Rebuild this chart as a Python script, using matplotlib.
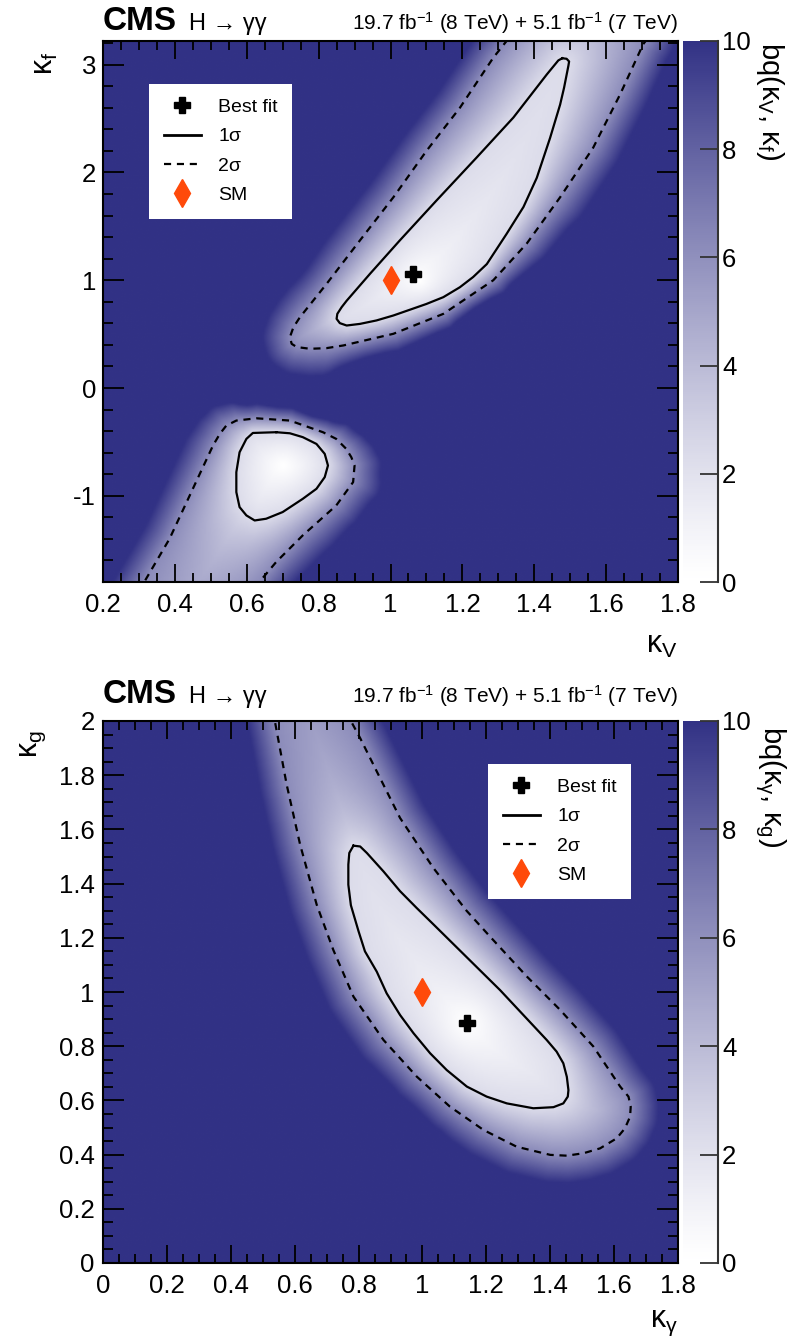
import numpy as np
import matplotlib
matplotlib.use("Agg")
import matplotlib.pyplot as plt
from matplotlib.path import Path
from matplotlib.colors import ListedColormap, to_rgb
from matplotlib.lines import Line2D
from matplotlib.ticker import MultipleLocator, FuncFormatter

plt.rcParams["font.family"] = ["Liberation Sans", "DejaVu Sans"]
plt.rcParams["mathtext.fontset"] = "custom"
plt.rcParams["mathtext.rm"] = "Liberation Sans"
plt.rcParams["mathtext.it"] = "Liberation Sans:italic"
plt.rcParams["mathtext.bf"] = "Liberation Sans:bold"
plt.rcParams["axes.unicode_minus"] = False

# ---- kappa_V vs kappa_f (top panel), contour points ----
kv_best = (1.063, 1.058)
kv_sm = (1.0, 1.0)

# upper island, 1 sigma (closed)
kv_up1_x = [1.478, 1.490, 1.497, 1.495, 1.483, 1.472, 1.444, 1.407, 1.370, 1.323, 1.268,
            1.230, 1.193, 1.147, 1.100, 1.008, 0.961, 0.915, 0.878, 0.859, 0.850, 0.852,
            0.864, 0.878, 0.943, 1.026, 1.128, 1.240, 1.342, 1.435, 1.467]
kv_up1_y = [3.060, 3.055, 3.030, 2.990, 2.787, 2.630, 2.320, 1.950, 1.680, 1.430, 1.150,
            1.030, 0.935, 0.843, 0.780, 0.673, 0.627, 0.595, 0.580, 0.602, 0.642, 0.688,
            0.750, 0.810, 1.060, 1.370, 1.740, 2.140, 2.510, 2.910, 3.040]
# upper island, 2 sigma (runs out of the frame at the top)
kv_up2_x = [1.630, 1.323, 1.286, 1.193, 1.100, 1.008, 0.915, 0.822, 0.748, 0.730, 0.720,
            0.725, 0.739, 0.776, 0.822, 0.869, 1.008, 1.147, 1.286, 1.379, 1.472, 1.564,
            1.639, 1.703, 1.710, 1.880]
kv_up2_y = [4.500, 3.220, 3.065, 2.600, 2.200, 1.770, 1.370, 0.966, 0.657, 0.565, 0.472,
            0.410, 0.380, 0.364, 0.370, 0.395, 0.503, 0.688, 1.000, 1.340, 1.770, 2.230,
            2.725, 3.190, 3.220, 4.500]
kv_up_min = (1.08, 1.00)

# lower island, 1 sigma (closed)
kv_lo1_x = [0.682, 0.617, 0.599, 0.580, 0.571, 0.571, 0.580, 0.599, 0.622, 0.654, 0.700,
            0.756, 0.794, 0.817, 0.826, 0.817, 0.794, 0.756, 0.720]
kv_lo1_y = [-0.410, -0.417, -0.472, -0.596, -0.781, -0.966, -1.105, -1.182, -1.229, -1.213,
            -1.151, -1.028, -0.935, -0.827, -0.719, -0.611, -0.519, -0.456, -0.420]
# lower island, 2 sigma (runs out of the frame at the bottom)
kv_lo2_x = [0.227, 0.320, 0.385, 0.450, 0.506, 0.525, 0.543, 0.571, 0.627, 0.720, 0.812,
            0.849, 0.877, 0.891, 0.900, 0.896, 0.849, 0.756, 0.682, 0.640, 0.508]
kv_lo2_y = [-2.300, -1.770, -1.400, -0.935, -0.534, -0.426, -0.349, -0.302, -0.281, -0.302,
            -0.410, -0.472, -0.565, -0.642, -0.719, -0.873, -1.090, -1.367, -1.614, -1.780,
            -2.300]
kv_lo_min = (0.70, -0.72)

# ---- kappa_gamma vs kappa_g (bottom panel) ----
kg_best = (1.139, 0.885)
kg_sm = (1.0, 1.0)

kg_1_x = [0.784, 0.805, 0.826, 0.878, 0.930, 0.982, 1.034, 1.120, 1.243, 1.389, 1.420,
          1.441, 1.452, 1.457, 1.455, 1.441, 1.410, 1.347, 1.264, 1.201, 1.139, 1.076,
          1.024, 0.972, 0.930, 0.888, 0.857, 0.820, 0.800, 0.776, 0.768, 0.768, 0.771]
kg_1_y = [1.540, 1.537, 1.513, 1.445, 1.372, 1.310, 1.250, 1.150, 1.007, 0.823, 0.780,
          0.737, 0.687, 0.638, 0.614, 0.589, 0.575, 0.571, 0.589, 0.614, 0.651, 0.712,
          0.774, 0.848, 0.915, 0.995, 1.075, 1.150, 1.224, 1.320, 1.396, 1.470, 1.513]
kg_2_x = [0.443, 0.539, 0.575, 0.617, 0.669, 0.721, 0.784, 0.878, 0.982, 1.086, 1.191,
          1.295, 1.400, 1.452, 1.504, 1.556, 1.608, 1.634, 1.650, 1.652, 1.645, 1.619,
          1.535, 1.431, 1.327, 1.212, 1.138, 1.034, 0.930, 0.857, 0.805, 0.776, 0.530]
kg_2_y = [2.600, 1.993, 1.765, 1.544, 1.322, 1.155, 0.983, 0.823, 0.688, 0.577, 0.491,
          0.429, 0.399, 0.396, 0.405, 0.423, 0.460, 0.497, 0.540, 0.577, 0.614, 0.651,
          0.799, 0.934, 1.057, 1.204, 1.300, 1.458, 1.642, 1.814, 1.937, 2.000, 2.600]

Q1, Q2, QMAX = 2.30, 6.18, 10.0
navy = np.array(to_rgb("#323285"))
ramp = np.linspace(0, 1, 256)[:, None] ** 1.2
cmap = ListedColormap(1 - (1 - navy) * ramp)
diamond_c = "#ff4a0a"

W, H = 796, 1344
fig = plt.figure(figsize=(W / 100, H / 100), dpi=100)


def fx(px):
    return px / W


def fy(py):
    return 1 - py / H


def poly_dist(gx, gy, xs, ys, sx, sy):
    # distance in pixels from every grid point to a closed polyline
    xs = np.append(xs, xs[0]) * sx
    ys = np.append(ys, ys[0]) * sy
    px, py = gx * sx, gy * sy
    d = np.full(gx.shape, np.inf)
    for i in range(len(xs) - 1):
        ax_, ay_ = xs[i], ys[i]
        bx, by = xs[i + 1] - ax_, ys[i + 1] - ay_
        t = np.clip(((px - ax_) * bx + (py - ay_) * by) / (bx * bx + by * by), 0, 1)
        d = np.minimum(d, np.hypot(px - ax_ - t * bx, py - ay_ - t * by))
    return d


def q_surface(gx, gy, c1x, c1y, c2x, c2y, centre, sx, sy):
    # q is pinned to 2.30 on the 1 sigma line and 6.18 on the 2 sigma line
    d1 = poly_dist(gx, gy, c1x, c1y, sx, sy)
    d2 = poly_dist(gx, gy, c2x, c2y, sx, sy)
    r = np.hypot((gx - centre[0]) * sx, (gy - centre[1]) * sy)
    pts = np.column_stack([gx.ravel(), gy.ravel()])
    in1 = Path(np.column_stack([c1x, c1y])).contains_points(pts).reshape(gx.shape)
    in2 = Path(np.column_stack([c2x, c2y])).contains_points(pts).reshape(gx.shape)
    q = np.where(in1, Q1 * r / (r + d1 + 1e-9),
                 np.where(in2, Q1 + (Q2 - Q1) * d1 / (d1 + d2 + 1e-9),
                          Q2 + (Q2 - Q1) * d2 / np.clip(d1 - d2, 8, 28)))
    return np.clip(q, 0, QMAX)


def fmt(v, pos):
    return "%g" % round(v, 3)


def style_axes(ax, xlim, ylim, xmaj, xmin, ymaj, ymin, ypad):
    ax.set_xlim(*xlim)
    ax.set_ylim(*ylim)
    ax.xaxis.set_major_locator(MultipleLocator(xmaj))
    ax.xaxis.set_minor_locator(MultipleLocator(xmin))
    ax.yaxis.set_major_locator(MultipleLocator(ymaj))
    ax.yaxis.set_minor_locator(MultipleLocator(ymin))
    ax.xaxis.set_major_formatter(FuncFormatter(fmt))
    ax.yaxis.set_major_formatter(FuncFormatter(fmt))
    ax.tick_params(which="both", direction="in", top=True, right=True, width=1.3,
                   labelsize=18.5)
    ax.tick_params(axis="x", which="major", length=13, pad=8)
    ax.tick_params(axis="x", which="minor", length=6.5)
    ax.tick_params(axis="y", which="major", length=15, pad=ypad)
    ax.tick_params(axis="y", which="minor", length=7.5)
    for s in ax.spines.values():
        s.set_linewidth(1.5)


def draw_contour(ax, xs, ys, dashed):
    if dashed:
        ax.plot(xs, ys, color="black", lw=1.6, dashes=(3.2, 2.6), zorder=3)
    else:
        ax.plot(list(xs) + [xs[0]], list(ys) + [ys[0]], color="black", lw=1.6,
                solid_joinstyle="round", zorder=3)


def add_legend(ax, anchor):
    handles = [
        Line2D([], [], ls="none", marker="P", ms=12, color="black"),
        Line2D([], [], color="black", lw=2),
        Line2D([], [], color="black", lw=1.6, dashes=(3.2, 2.6)),
        Line2D([], [], ls="none", marker="d", ms=14, color=diamond_c),
    ]
    labels = ["Best fit", "1σ", "2σ", "SM"]
    leg = ax.legend(handles, labels, loc="upper left", bbox_to_anchor=anchor,
                    borderaxespad=0, frameon=True, fancybox=False, framealpha=1,
                    facecolor="white", edgecolor="none", fontsize=14, handlelength=1.9,
                    handletextpad=0.9, labelspacing=0.6, borderpad=0.75)
    leg.set_zorder(10)


def style_cbar(cb, cax):
    cb.outline.set_visible(False)
    cax.tick_params(direction="in", length=13, width=1.3, labelsize=18.5, pad=3,
                    color="#333333")
    cax.axvline(1, color="#333333", lw=1.5, clip_on=False)


def header(py):
    fig.text(fx(103), fy(py), "CMS", fontsize=24, fontweight="bold", va="baseline")
    fig.text(fx(189), fy(py), "H → γγ", fontsize=17, va="baseline")
    fig.text(fx(678), fy(py), "19.7 fb$^{-1}$ (8 TeV) + 5.1 fb$^{-1}$ (7 TeV)",
             fontsize=15, va="baseline", ha="right")


# ---------------- top panel ----------------
ax1 = fig.add_axes([fx(103), fy(582), fx(575), 541 / H])
cax1 = fig.add_axes([fx(683), fy(582), fx(35), 541 / H])
xl1, yl1 = (0.2, 1.8), (-1.8, 3.22)
gx, gy = np.meshgrid(np.linspace(*xl1, 400), np.linspace(*yl1, 400))
sx1, sy1 = 575 / 1.6, 541 / 5.02
q_up = q_surface(gx, gy, kv_up1_x, kv_up1_y, kv_up2_x, kv_up2_y, kv_up_min, sx1, sy1)
q_lo = q_surface(gx, gy, kv_lo1_x, kv_lo1_y, kv_lo2_x, kv_lo2_y, kv_lo_min, sx1, sy1)
im1 = ax1.imshow(np.minimum(q_up, q_lo), extent=(*xl1, *yl1), origin="lower",
                 aspect="auto", cmap=cmap, vmin=0, vmax=QMAX, interpolation="bilinear")
draw_contour(ax1, kv_up1_x, kv_up1_y, False)
draw_contour(ax1, kv_up2_x, kv_up2_y, True)
draw_contour(ax1, kv_lo1_x, kv_lo1_y, False)
draw_contour(ax1, kv_lo2_x, kv_lo2_y, True)
ax1.plot(*kv_sm, ls="none", marker="d", ms=14, color=diamond_c, zorder=5)
ax1.plot(*kv_best, ls="none", marker="P", ms=12, color="black", zorder=5)
style_axes(ax1, xl1, yl1, 0.2, 0.05, 1, 0.2, 5)
add_legend(ax1, (0.080, 0.9205))
cb1 = fig.colorbar(im1, cax=cax1, ticks=range(0, 11, 2))
style_cbar(cb1, cax1)
header(30)
fig.text(fx(45), fy(52), "κ$_\\mathrm{f}$", fontsize=22, rotation=90, ha="center", va="top")
fig.text(fx(678), fy(645), "κ$_\\mathrm{V}$", fontsize=22, ha="right", va="center")
fig.text(fx(770), fy(42), "bq(κ$_\\mathrm{V}$, κ$_\\mathrm{f}$)", fontsize=21, rotation=270,
         ha="center", va="top")

# ---------------- bottom panel ----------------
ax2 = fig.add_axes([fx(103), fy(1263), fx(575), 542 / H])
cax2 = fig.add_axes([fx(683), fy(1263), fx(35), 542 / H])
xl2, yl2 = (0.0, 1.8), (0.0, 2.0)
gx, gy = np.meshgrid(np.linspace(*xl2, 400), np.linspace(*yl2, 400))
sx2, sy2 = 575 / 1.8, 542 / 2.0
q2 = q_surface(gx, gy, kg_1_x, kg_1_y, kg_2_x, kg_2_y, kg_best, sx2, sy2)
im2 = ax2.imshow(q2, extent=(*xl2, *yl2), origin="lower", aspect="auto", cmap=cmap,
                 vmin=0, vmax=QMAX, interpolation="bilinear")
draw_contour(ax2, kg_1_x, kg_1_y, False)
draw_contour(ax2, kg_2_x, kg_2_y, True)
ax2.plot(*kg_sm, ls="none", marker="d", ms=14, color=diamond_c, zorder=5)
ax2.plot(*kg_best, ls="none", marker="P", ms=12, color="black", zorder=5)
style_axes(ax2, xl2, yl2, 0.2, 0.05, 0.2, 0.05, 6)
add_legend(ax2, (0.670, 0.9207))
cb2 = fig.colorbar(im2, cax=cax2, ticks=range(0, 11, 2))
style_cbar(cb2, cax2)
header(703)
fig.text(fx(33), fy(730), "κ$_\\mathrm{g}$", fontsize=22, rotation=90, ha="center", va="top")
fig.text(fx(678), fy(1323), "κ$_\\mathrm{γ}$", fontsize=22, ha="right", va="center")
fig.text(fx(770), fy(726), "bq(κ$_\\mathrm{γ}$, κ$_\\mathrm{g}$)", fontsize=21, rotation=270,
         ha="center", va="top")

fig.savefig("out.png", dpi=100)
